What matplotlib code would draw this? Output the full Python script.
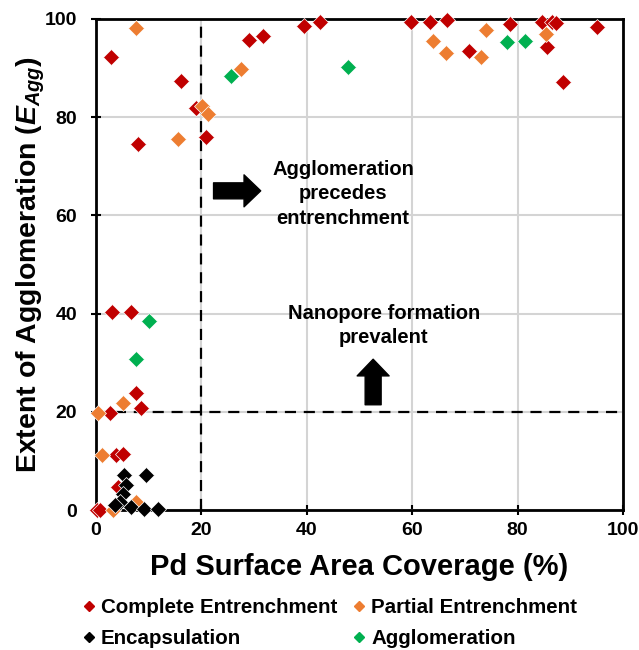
import matplotlib
matplotlib.use('Agg')
import matplotlib.pyplot as plt
from matplotlib.lines import Line2D

plt.rcParams['font.family'] = 'Liberation Sans'
plt.rcParams['font.weight'] = 'bold'
plt.rcParams['mathtext.fontset'] = 'custom'
plt.rcParams['mathtext.it'] = 'Liberation Sans:italic:bold'
plt.rcParams['mathtext.rm'] = 'Liberation Sans:bold'

# Complete Entrenchment
ce_x = [0.2, 0.8, 2.8, 16.1, 19.0, 8.0, 20.9, 29.1, 31.8, 39.5, 42.6, 59.8, 63.4, 66.7, 78.6,
        84.6, 86.5, 87.3, 70.8, 85.5, 88.7, 95.1, 3.0, 6.6, 7.6, 8.5, 2.7, 3.9, 5.2, 4.2]
ce_y = [0.0, 0.0, 92.3, 87.4, 81.8, 74.5, 76.0, 95.6, 96.6, 98.6, 99.3, 99.3, 99.3, 99.8, 99.0,
        99.3, 99.3, 99.1, 93.5, 94.2, 87.2, 98.4, 40.4, 40.4, 23.8, 20.9, 19.8, 11.3, 11.5, 4.7]

# Partial Entrenchment
pe_x = [7.7, 27.5, 15.6, 20.1, 21.3, 63.9, 66.5, 74.0, 73.1, 85.4, 0.4, 5.2, 1.1, 3.3, 7.7]
pe_y = [98.2, 89.8, 75.6, 82.3, 80.6, 95.5, 93.0, 97.8, 92.2, 96.9, 19.8, 21.9, 11.2, 0.0, 1.7]

# Encapsulation
en_x = [5.4, 9.5, 5.8, 5.2, 4.5, 3.6, 6.7, 9.2, 11.8]
en_y = [7.1, 7.1, 5.1, 3.4, 1.7, 1.0, 0.7, 0.3, 0.3]

# Agglomeration
ag_x = [25.7, 47.8, 77.9, 81.5, 10.1, 7.7]
ag_y = [88.3, 90.3, 95.2, 95.5, 38.6, 30.7]

series = [
    ('Complete Entrenchment', ce_x, ce_y, '#C00000'),
    ('Partial Entrenchment', pe_x, pe_y, '#ED7D31'),
    ('Agglomeration', ag_x, ag_y, '#00B050'),
    ('Encapsulation', en_x, en_y, '#000000'),
]

fig = plt.figure(figsize=(6.39, 6.5), dpi=100)
ax = fig.add_axes([0.150, 0.215, 0.825, 0.756])

for name, xs, ys, col in series:
    ax.plot(xs, ys, linestyle='none', marker='D', markersize=8.6, color=col,
            markeredgecolor='white', markeredgewidth=0.5, zorder=3, clip_on=False)

ax.set_xlim(0, 100)
ax.set_ylim(0, 100)
ax.set_xticks(range(0, 101, 20))
ax.set_yticks(range(0, 101, 20))
ax.grid(True, color='#D4D4D4', linewidth=1.5, zorder=0)
ax.set_axisbelow(True)
for sp in ax.spines.values():
    sp.set_linewidth(2)
    sp.set_color('black')
ax.tick_params(labelsize=14, width=1.5, length=7, direction='inout')
ax.tick_params(axis='y', pad=10)
ax.tick_params(axis='x', pad=5)
for lab in ax.get_xticklabels() + ax.get_yticklabels():
    lab.set_fontweight('bold')

ax.axvline(20, color='black', linestyle=(0, (5, 3.5)), linewidth=1.6, zorder=2)
ax.axhline(20, color='black', linestyle=(0, (5, 3.5)), linewidth=1.6, zorder=2)

ax.set_xlabel('Pd Surface Area Coverage (%)', fontsize=21, fontweight='bold', labelpad=10)
ax.set_ylabel(r'Extent of Agglomeration ($E_{Agg}$)', fontsize=20.5, fontweight='bold', labelpad=-1.5)

arrow_style = 'simple, head_width=2.3, head_length=1.2, tail_width=1.15'
ax.annotate('', xy=(31.8, 65.0), xytext=(21.8, 65.0),
            arrowprops=dict(arrowstyle=arrow_style, mutation_scale=10, fc='black', ec='black'))
ax.text(46.9, 64.4, 'Agglomeration\nprecedes\nentrenchment', ha='center', va='center',
        fontsize=14.5, fontweight='bold', linespacing=1.35)

ax.annotate('', xy=(52.6, 31.3), xytext=(52.6, 20.9),
            arrowprops=dict(arrowstyle=arrow_style, mutation_scale=10, fc='black', ec='black'))
ax.text(54.6, 37.6, 'Nanopore formation\nprevalent', ha='center', va='center',
        fontsize=14.5, fontweight='bold', linespacing=1.35)

handles = [Line2D([], [], linestyle='none', marker='D', markersize=5.5, color=c, label=n)
           for n, _, _, c in [series[0], series[3], series[1], series[2]]]
fig.legend(handles=handles, loc='lower left', bbox_to_anchor=(0.1, -0.025), ncol=2,
           frameon=False, prop={'size': 14.8, 'weight': 'bold'}, handlelength=0.6,
           handletextpad=0.3, columnspacing=0.75, labelspacing=0.55)

fig.savefig('out.png', dpi=100)
